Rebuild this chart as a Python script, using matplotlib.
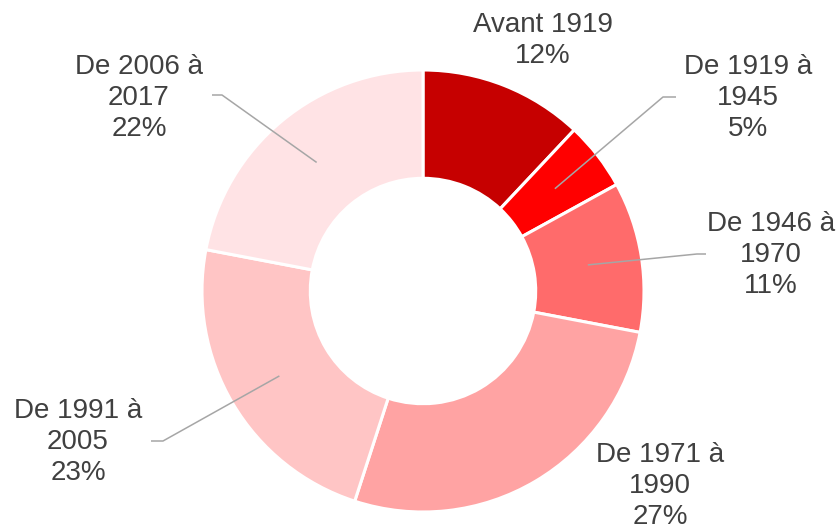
import matplotlib
matplotlib.use("Agg")
import matplotlib.pyplot as plt
import numpy as np

# periods of construction and their share
periods = ["Avant 1919", "De 1919 à\n1945", "De 1946 à\n1970",
           "De 1971 à\n1990", "De 1991 à\n2005", "De 2006 à\n2017"]
shares = [12, 5, 11, 27, 23, 22]
colors = ["#C60000", "#FF0000", "#FF6B6B", "#FFA3A3", "#FFC5C5", "#FFE3E5"]

W, H = 837, 527
fig = plt.figure(figsize=(W / 100, H / 100), dpi=100)
ax = fig.add_axes([0, 0, 1, 1])
ax.set_xlim(0, W)
ax.set_ylim(0, H)
ax.set_aspect("equal")
ax.axis("off")

cx, cy = 423, H - 291
r_out = 221
ring = 0.49

wedges, _ = ax.pie(shares, colors=colors, startangle=90, counterclock=False,
                   center=(cx, cy), radius=r_out,
                   wedgeprops=dict(width=r_out * ring, edgecolor="white", linewidth=2.2))
ax.set_xlim(0, W)
ax.set_ylim(0, H)

# label centre (pixels from top-left) and leader elbow (None = no leader)
label_pos = [(543, 40), (748, 98), (771, 255), (660, 486), (78, 442), (139, 98)]
elbows = [None, ((663, 97), (676, 97)), ((697, 254), (706, 254)), None,
          ((163, 441), (151, 441)), ((222, 95), (212, 95))]

r_mid = r_out * (1 - ring / 2)
for w, name, val, (lx, ly), elb in zip(wedges, periods, shares, label_pos, elbows):
    ax.text(lx, H - ly, f"{name}\n{val}%", ha="center", va="center",
            fontsize=20, color="#404040", family="Liberation Sans",
            linespacing=1.25)
    if elb is not None:
        ang = np.deg2rad((w.theta1 + w.theta2) / 2)
        sx, sy = cx + r_mid * np.cos(ang), cy + r_mid * np.sin(ang)
        (ex, ey), (fx, fy) = elb
        ax.plot([sx, ex, fx], [sy, H - ey, H - fy], color="#A6A6A6", lw=1.1,
                solid_capstyle="butt")

fig.savefig("out.png", dpi=100)
